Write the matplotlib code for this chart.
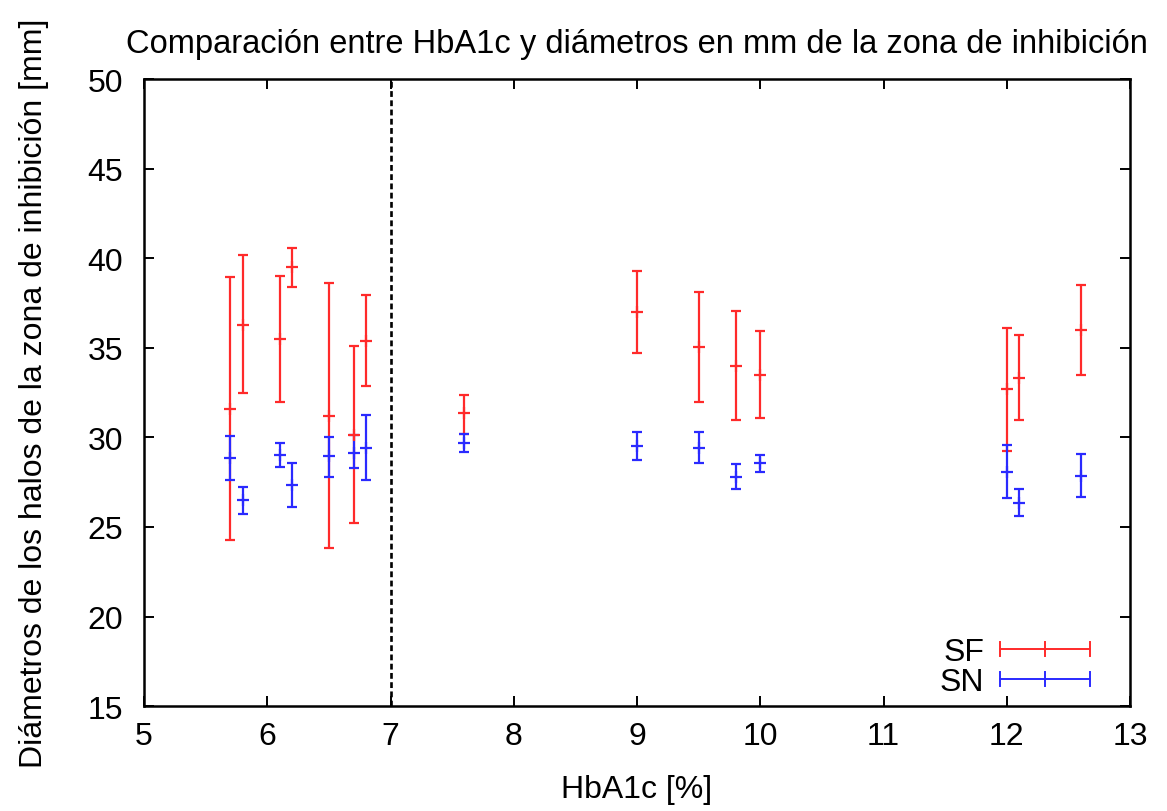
import matplotlib
matplotlib.use("Agg")
import matplotlib.pyplot as plt
from matplotlib.legend_handler import HandlerBase
from matplotlib.lines import Line2D

plt.rcParams['font.family'] = ['Liberation Sans', 'DejaVu Sans']

# HbA1c [%]
hba1c = [5.7, 5.8, 6.1, 6.2, 6.5, 6.7, 6.8, 7.6, 9.0, 9.5, 9.8, 10.0, 12.0, 12.1, 12.6]

# SF: valor, minimo, maximo
sf = [31.6, 36.3, 35.5, 39.5, 31.2, 30.15, 35.4, 31.35, 37.0, 35.05, 34.0, 33.5, 32.7, 33.35, 36.0]
sf_low = [24.3, 32.5, 32.0, 38.4, 23.8, 25.2, 32.9, 30.2, 34.7, 32.0, 30.95, 31.1, 29.25, 30.95, 33.5]
sf_high = [38.95, 40.2, 39.0, 40.6, 38.65, 35.1, 37.95, 32.4, 39.3, 38.1, 37.05, 35.95, 36.1, 35.75, 38.5]

# SN: valor, minimo, maximo
sn = [28.85, 26.5, 29.0, 27.35, 28.95, 29.15, 29.4, 29.7, 29.5, 29.4, 27.8, 28.55, 28.1, 26.35, 27.85]
sn_low = [27.6, 25.75, 28.35, 26.1, 27.8, 28.3, 27.6, 29.2, 28.75, 28.55, 27.1, 28.05, 26.6, 25.6, 26.65]
sn_high = [30.1, 27.25, 29.7, 28.6, 30.05, 30.15, 31.25, 30.2, 30.3, 30.3, 28.5, 29.0, 29.6, 27.1, 29.05]

RED = '#ff2a2a'
BLUE = '#2a2aff'
FS = 23


class HandlerHErr(HandlerBase):
    # muestra horizontal estilo gnuplot: linea con topes y marca central
    def create_artists(self, legend, orig, xd, yd, w, h, fs, trans):
        c = orig.get_color()
        y = h / 2 - yd
        cap = 5
        x0, x1 = -xd, -xd + w
        xm = (x0 + x1) / 2
        arts = [Line2D([x0, x1], [y, y], color=c, lw=1.4),
                Line2D([x0, x0], [y - cap, y + cap], color=c, lw=1.4),
                Line2D([x1, x1], [y - cap, y + cap], color=c, lw=1.4),
                Line2D([xm, xm], [y - cap, y + cap], color=c, lw=1.4)]
        for a in arts:
            a.set_transform(trans)
        return arts


fig = plt.figure(figsize=(11.67, 8.12), dpi=100)
ax = fig.add_axes([0.1234, 0.1293, 0.9683 - 0.1234, 0.9009 - 0.1293])

def err(v, lo, hi):
    return [[a - b for a, b in zip(v, lo)], [b - a for a, b in zip(v, hi)]]

ax.errorbar(hba1c, sf, yerr=err(sf, sf_low, sf_high), fmt='+', color=RED,
            ecolor=RED, elinewidth=1.6, capsize=3.8, capthick=1.6,
            markersize=8, mew=1.6, label='SF')
ax.errorbar(hba1c, sn, yerr=err(sn, sn_low, sn_high), fmt='+', color=BLUE,
            ecolor=BLUE, elinewidth=1.6, capsize=3.8, capthick=1.6,
            markersize=8, mew=1.6, label='SN')

ax.axvline(7, color='black', ls=(0, (2.2, 1.3)), lw=1.9)

ax.set_xlim(5, 13)
ax.set_ylim(15, 50)
ax.set_xticks(range(5, 14))
ax.set_yticks(range(15, 51, 5))
ax.tick_params(direction='in', length=7, width=1.4, labelsize=FS,
               top=True, right=True)
ax.tick_params(axis='x', pad=11)
ax.tick_params(axis='y', pad=15)
for s in ax.spines.values():
    s.set_linewidth(1.8)

ax.set_title('Comparación entre HbA1c y diámetros en mm de la zona de inhibición',
             fontsize=23.5, pad=20)
ax.set_xlabel('HbA1c [%]', fontsize=FS, labelpad=16)
ax.set_ylabel('Diámetros de los halos de la zona de inhibición [mm]', fontsize=FS, labelpad=28)

h_sf = Line2D([], [], color=RED)
h_sn = Line2D([], [], color=BLUE)
ax.legend([h_sf, h_sn], ['SF', 'SN'], handler_map={Line2D: HandlerHErr()},
          loc='lower right', frameon=False, markerfirst=False, fontsize=FS,
          handlelength=2.8, handleheight=0.6, handletextpad=0.5,
          labelspacing=0.0, borderpad=0, borderaxespad=0,
          bbox_to_anchor=(0.959, 0.014))

fig.savefig('out.png', dpi=100)
